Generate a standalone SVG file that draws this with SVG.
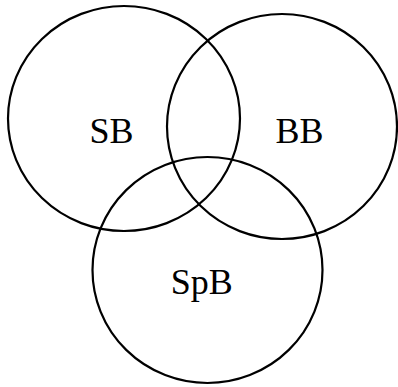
<svg xmlns="http://www.w3.org/2000/svg" width="398" height="387" viewBox="0 0 398 387">
<style>
.c{fill:none;stroke:#000;stroke-width:2.2}
.t{font-family:"Liberation Serif","Times New Roman",serif;font-size:36px;fill:#000;text-anchor:middle}
</style>
<rect width="398" height="387" fill="#fff"/>
<g id="SB"><ellipse class="c" cx="124" cy="118.5" rx="116" ry="112.5"/><text class="t" x="111.5" y="143">SB</text></g>
<g id="BB"><ellipse class="c" cx="282" cy="126.5" rx="115" ry="112.5"/><text class="t" x="299.5" y="143">BB</text></g>
<g id="SpB"><ellipse class="c" cx="207.5" cy="270" rx="115" ry="113"/><text class="t" x="201.7" y="294">SpB</text></g>
<g id="connectors"></g>
</svg>
